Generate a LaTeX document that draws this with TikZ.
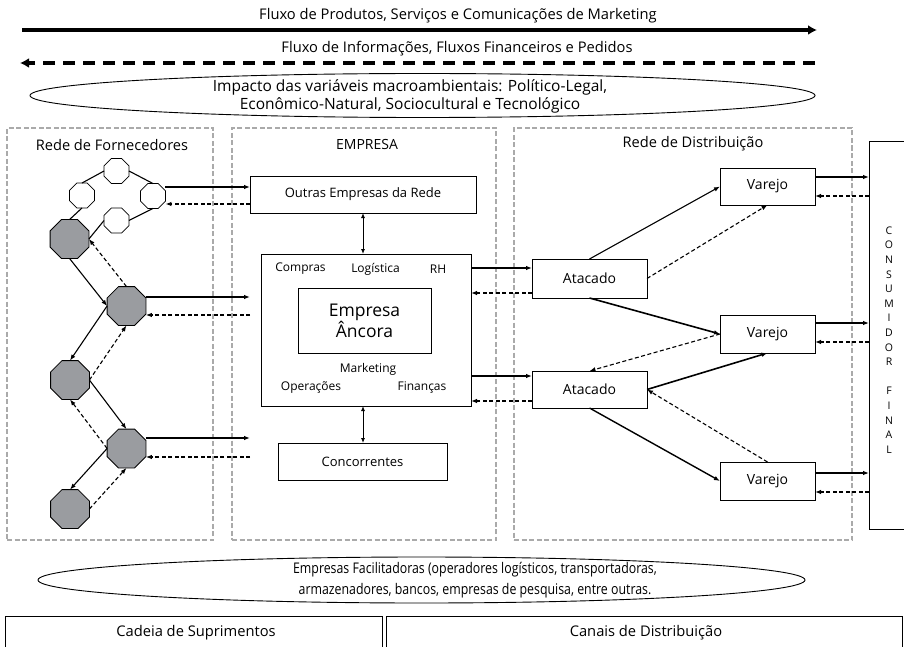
\documentclass[tikz,border=0pt]{standalone}
\usepackage{fontspec}
\setmainfont{Open Sans}
\newfontfamily\condfont[FakeStretch=0.84]{Open Sans}
\usetikzlibrary{shapes.geometric,arrows.meta}
\definecolor{octgray}{RGB}{154,156,160}
\definecolor{regiongray}{RGB}{170,170,170}
\begin{document}
\begin{tikzpicture}[x=1pt,y=-1pt,
  every node/.style={inner sep=0pt,outer sep=0pt},
  f12/.style={font=\fontsize{12}{14}\selectfont},
  f13/.style={font=\fontsize{13}{16}\selectfont},
  f14/.style={font=\fontsize{14}{17}\selectfont},
  fband/.style={font=\fontsize{14.7}{18}\selectfont},
  box/.style={draw,line width=0.9pt,fill=white,f13},
  region/.style={draw=regiongray,line width=1.3pt,dash pattern=on 5pt off 2.5pt},
  oct/.style={regular polygon,regular polygon sides=8,draw,line width=0.8pt,inner sep=0pt},
  woct/.style={oct,fill=white,minimum size=27pt},
  goct/.style={oct,fill=octgray,minimum size=42pt},
  tip/.style={-{Latex[length=6pt,width=4.5pt]}},
  arr/.style={tip,line width=1.1pt},
  darr/.style={arr,dash pattern=on 4pt off 2.5pt},
  link/.style={line width=1.1pt},
  dbl/.style={{Latex[length=5pt,width=4pt]}-{Latex[length=5pt,width=4pt]},line width=0.9pt},
  bigarrow/.style={line width=3.2pt,-{Latex[length=9pt,width=10pt]}},
]
\useasboundingbox (0,0) rectangle (904,647);

% top flows
\coordinate (s1) at (22,30);
\coordinate (e1) at (817,30);
\draw[bigarrow] (s1) -- (e1);
\node[fband] (t1) at (458,16) {Fluxo de Produtos, Serviços e Comunicações de Marketing};
\coordinate (s2) at (815,63);
\coordinate (e2) at (20,63);
\draw[bigarrow,dash pattern=on 12pt off 8pt] (s2) -- (e2);
\node[fband] (t2) at (457,49) {Fluxo de Informações, Fluxos Financeiros e Pedidos};

% macro environment ellipse
\node[draw,ellipse,line width=0.9pt,minimum width=785pt,minimum height=44pt] (env) at (422.5,95.5) {};
\node[font=\fontsize{15.5}{18.5}\selectfont,align=center] (envt) at (410,96.5) {Impacto das variáveis macroambientais: Político-Legal,\\Econômico-Natural, Sociocultural e Tecnológico};

% regions
\node[region,minimum width=206pt,minimum height=412pt] (rf) at (110,334) {};
\node[region,minimum width=264pt,minimum height=412pt] (re) at (364,334) {};
\node[region,minimum width=338pt,minimum height=412pt] (rd) at (683,334) {};
\node[font=\fontsize{14.6}{17}\selectfont] (lf) at (112,145) {Rede de Fornecedores};
\node[f14] (le) at (367,145) {EMPRESA};
\node[font=\fontsize{14.6}{17}\selectfont] (ld) at (693,144) {Rede de Distribuição};

% company
\node[box,minimum width=226pt,minimum height=37pt] (outras) at (363,194.5) {Outras Empresas da Rede};
\node[box,minimum width=210pt,minimum height=152pt] (main) at (366,330) {};
\node[box,minimum width=133pt,minimum height=65pt,font=\fontsize{17.5}{21}\selectfont,align=center] (anc) at (364.5,320.5) {Empresa\\Âncora};
\node[f12] (compras) at (300.5,269) {Compras};
\node[f12] (logist) at (375.5,269) {Logística};
\node[f12] (rh) at (438,269) {RH};
\node[f12] (mkt) at (368,369) {Marketing};
\node[f12] (oper) at (311,388) {Operações};
\node[f12] (fin) at (422,388) {Finanças};
\node[box,minimum width=169pt,minimum height=37pt] (conc) at (362.5,461.5) {Concorrentes};
\draw[dbl] (outras.south -| 363,0) -- (main.north -| 363,0);
\draw[dbl] (main.south -| 363,0) -- (conc.north -| 363,0);

% distribution
\node[box,f14,minimum width=115pt,minimum height=39pt] (at1) at (589.5,278.5) {Atacado};
\node[box,f14,minimum width=115pt,minimum height=37pt] (at2) at (589.5,389.5) {Atacado};
\node[box,f14,minimum width=95pt,minimum height=37pt] (v1) at (767.5,186.5) {Varejo};
\node[box,f14,minimum width=95pt,minimum height=38pt] (v2) at (767.5,334) {Varejo};
\node[box,f14,minimum width=95pt,minimum height=38pt] (v3) at (767.5,481) {Varejo};

\draw[arr] (at1.north) -- (v1.west);
\draw[darr] (at1.east) -- (v1.south);
\draw[arr,line width=1.6pt] (at1.south) -- (v2.west);
\draw[darr] (v2.west) -- (at2.north);
\draw[arr,line width=1.6pt] (at2.east) -- (v2.south);
\draw[darr] (v3.north) -- (at2.east);
\draw[arr,line width=1.4pt] (at2.south) -- (v3.west);

\draw[arr] (main.east |- 0,268) -- (at1.west |- 0,268);
\draw[darr] (at1.west |- 0,293) -- (main.east |- 0,293);
\draw[arr] (main.east |- 0,376) -- (at2.west |- 0,376);
\draw[darr] (at2.west |- 0,401) -- (main.east |- 0,401);

% consumer
\node[draw,line width=0.9pt,minimum width=72pt,minimum height=388pt] (cons) at (905,335) {};
\node[font=\fontsize{10.5}{14.6}\selectfont,align=center] (const) at (889,340) {C\\O\\N\\S\\U\\M\\I\\D\\O\\R\\[14.6pt]F\\I\\N\\A\\L};
\draw[arr] (v1.east |- 0,177) -- (cons.west |- 0,177);
\draw[darr] (cons.west |- 0,196) -- (v1.east |- 0,196);
\draw[arr] (v2.east |- 0,323) -- (cons.west |- 0,323);
\draw[darr] (cons.west |- 0,342) -- (v2.east |- 0,342);
\draw[arr] (v3.east |- 0,473) -- (cons.west |- 0,473);
\draw[darr] (cons.west |- 0,492) -- (v3.east |- 0,492);

% suppliers
\node[woct] (w1) at (116.5,171) {};
\node[woct] (w2) at (82,195.5) {};
\node[woct] (w3) at (153,196) {};
\node[woct] (w4) at (116.5,220.5) {};
\node[goct] (g1) at (69.5,239) {};
\node[goct] (g2) at (126.5,306) {};
\node[goct] (g3) at (70,380) {};
\node[goct] (g4) at (126.5,448.5) {};
\node[goct] (g5) at (70,509) {};

\draw[link] (w2.north) -- (w1.west);
\draw[link] (w1.east) -- (w3.north);
\draw[link] (w3.south) -- (w4.east);
\draw[link] (w2.south) -- (g1.north);
\draw[link] (w4.west) -- (g1.east);
\draw[arr] (g1.south) -- (g2.west);
\draw[darr] (g2.north) -- (g1.east);
\draw[arr] (g2.west) -- (g3.north);
\draw[darr] (g3.east) -- (g2.south);
\draw[arr] (g3.east) -- (g4.north);
\draw[darr] (g4.west) -- (g3.south);
\draw[arr] (g4.west) -- (g5.north);
\draw[darr] (g5.east) -- (g4.south);

\draw[arr] (w3.east |- 0,187) -- (outras.west |- 0,187);
\draw[darr] (outras.west |- 0,204) -- (w3.east |- 0,204);
\coordinate (p2) at (250,297);
\coordinate (q2) at (250,315);
\coordinate (p4) at (250,438);
\coordinate (q4) at (250,457);
\draw[arr] (g2.east |- p2) -- (p2);
\draw[darr] (q2) -- (g2.east |- q2);
\draw[arr] (g4.east |- p4) -- (p4);
\draw[darr] (q4) -- (g4.east |- q4);

% facilitators
\node[draw,ellipse,line width=0.9pt,minimum width=767pt,minimum height=46pt] (fac) at (421.5,580) {};
\node[font=\condfont\fontsize{14.7}{21}\selectfont,align=center] (fact) at (475,580) {Empresas Facilitadoras (operadores logísticos, transportadoras,\\armazenadores, bancos, empresas de pesquisa, entre outras.};

% bottom boxes
\node[draw,line width=0.9pt,minimum width=377pt,minimum height=60pt] (cs) at (193.5,646) {};
\node[draw,line width=0.9pt,minimum width=516pt,minimum height=60pt] (cd) at (644,646) {};
\node[fband] (cst) at (196,633) {Cadeia de Suprimentos};
\node[fband] (cdt) at (646,633) {Canais de Distribuição};
\end{tikzpicture}
\end{document}
